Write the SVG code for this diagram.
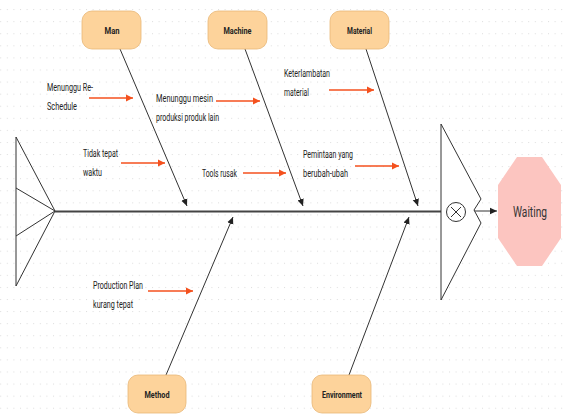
<svg xmlns="http://www.w3.org/2000/svg" width="563" height="414" viewBox="0 0 563 414">
<defs>
<pattern id="dots" patternUnits="userSpaceOnUse" x="0.2" y="9.1" width="6.6" height="12.08">
<rect x="0" y="0" width="1" height="1" fill="#dcdcdc"/>
</pattern>
<marker id="blk" markerUnits="userSpaceOnUse" markerWidth="8" markerHeight="8" viewBox="0 0 8 8" refX="7" refY="4" orient="auto">
<path d="M0,0.8 L7,4 L0,7.2 z" fill="#222"/>
</marker>
<marker id="red" markerUnits="userSpaceOnUse" markerWidth="8" markerHeight="8" viewBox="0 0 8 8" refX="7" refY="4" orient="auto">
<path d="M0,0.5 L7,4 L0,7.5 z" fill="#f4511e"/>
</marker>
</defs>
<style>
.cat rect{fill:#fdd39b;stroke:#e8b777;stroke-width:0.8}
.cat text{font-family:Roboto,"Liberation Sans",sans-serif;font-weight:bold;font-size:9.5px;fill:#222;text-anchor:middle}
.lbl{font-family:Roboto,"Liberation Sans",sans-serif;font-size:10px;fill:#222}
.bone{stroke:#333;stroke-width:1;fill:none;marker-end:url(#blk)}
.ra{stroke:#f4511e;stroke-width:1.5;fill:none;marker-end:url(#red)}
.ln{stroke:#333;stroke-width:1;fill:none}
</style>
<rect width="563" height="414" fill="#ffffff"/>
<rect width="563" height="414" fill="url(#dots)"/>

<g id="tail">
<path class="ln" d="M16,137 L16,286 M16,137 L55,211 L16,286 M16,188 L55,211 L16,236"/>
</g>

<g id="connectors">
<line x1="55" y1="211.5" x2="441" y2="211.5" stroke="#444" stroke-width="1.8"/>
<line class="bone" x1="120" y1="49" x2="187" y2="206"/>
<line class="bone" x1="245" y1="49" x2="303" y2="206"/>
<line class="bone" x1="366" y1="49" x2="418" y2="206"/>
<line class="bone" x1="166" y1="375" x2="233" y2="217"/>
<line class="bone" x1="349" y1="375" x2="409" y2="217"/>
<line class="bone" x1="474" y1="211" x2="497" y2="211"/>
<line class="ra" x1="89" y1="98" x2="133" y2="98"/>
<line class="ra" x1="121" y1="163" x2="165" y2="163"/>
<line class="ra" x1="216" y1="101" x2="260" y2="101"/>
<line class="ra" x1="243" y1="173" x2="286" y2="173"/>
<line class="ra" x1="329" y1="90" x2="374" y2="90"/>
<line class="ra" x1="355" y1="166" x2="399" y2="166"/>
<line class="ra" x1="148" y1="291" x2="193" y2="291"/>
</g>

<g id="head">
<path d="M441,124 L481,199 L474,210 L481,223 L441,300 Z" fill="#ffffff" stroke="#333" stroke-width="1"/>
<circle cx="456" cy="212" r="9.5" fill="#ffffff" stroke="#333" stroke-width="1"/>
<path d="M451,207 L461,217 M461,207 L451,217" stroke="#333" stroke-width="1"/>
</g>

<g id="waiting">
<polygon points="517,157 542,157 561,185 561,238 542,266 517,266 498,238 498,185" fill="#fcc5c0"/>
<text x="530" y="217" font-family="Roboto,'Liberation Sans',sans-serif" font-size="14" fill="#333" text-anchor="middle" textLength="34" lengthAdjust="spacingAndGlyphs">Waiting</text>
</g>

<g id="man" class="cat"><rect x="82" y="11" width="59" height="38" rx="10"/><text x="112" y="33.5" textLength="15" lengthAdjust="spacingAndGlyphs">Man</text></g>
<g id="machine" class="cat"><rect x="208" y="11" width="59" height="38" rx="10"/><text x="237.5" y="33.5" textLength="28" lengthAdjust="spacingAndGlyphs">Machine</text></g>
<g id="material" class="cat"><rect x="330" y="11" width="59" height="38" rx="10"/><text x="359.5" y="33.5" textLength="25" lengthAdjust="spacingAndGlyphs">Material</text></g>
<g id="method" class="cat"><rect x="128" y="375" width="58" height="38" rx="10"/><text x="157" y="397.5" textLength="25" lengthAdjust="spacingAndGlyphs">Method</text></g>
<g id="environment" class="cat"><rect x="312" y="375" width="59" height="38" rx="10"/><text x="342" y="397.5" textLength="40" lengthAdjust="spacingAndGlyphs">Environment</text></g>

<g id="cause-reschedule"><text class="lbl" x="47" y="90.5" textLength="46" lengthAdjust="spacingAndGlyphs">Menunggu Re-</text><text class="lbl" x="47" y="109.5" textLength="30" lengthAdjust="spacingAndGlyphs">Schedule</text></g>
<g id="cause-tidak-tepat"><text class="lbl" x="83" y="156.5" textLength="35" lengthAdjust="spacingAndGlyphs">Tidak tepat</text><text class="lbl" x="83" y="175.5" textLength="19" lengthAdjust="spacingAndGlyphs">waktu</text></g>
<g id="cause-mesin"><text class="lbl" x="156" y="101.5" textLength="57" lengthAdjust="spacingAndGlyphs">Menunggu mesin</text><text class="lbl" x="156" y="120.5" textLength="63" lengthAdjust="spacingAndGlyphs">produksi produk lain</text></g>
<g id="cause-tools"><text class="lbl" x="202" y="176.5" textLength="35" lengthAdjust="spacingAndGlyphs">Tools rusak</text></g>
<g id="cause-keterlambatan"><text class="lbl" x="284" y="76.5" textLength="46" lengthAdjust="spacingAndGlyphs">Keterlambatan</text><text class="lbl" x="284" y="95.5" textLength="25" lengthAdjust="spacingAndGlyphs">material</text></g>
<g id="cause-pemintaan"><text class="lbl" x="303" y="157.5" textLength="50" lengthAdjust="spacingAndGlyphs">Pemintaan yang</text><text class="lbl" x="303" y="176.5" textLength="45" lengthAdjust="spacingAndGlyphs">berubah-ubah</text></g>
<g id="cause-production-plan"><text class="lbl" x="93" y="288.5" textLength="50" lengthAdjust="spacingAndGlyphs">Production Plan</text><text class="lbl" x="93" y="307.5" textLength="40" lengthAdjust="spacingAndGlyphs">kurang tepat</text></g>
</svg>
